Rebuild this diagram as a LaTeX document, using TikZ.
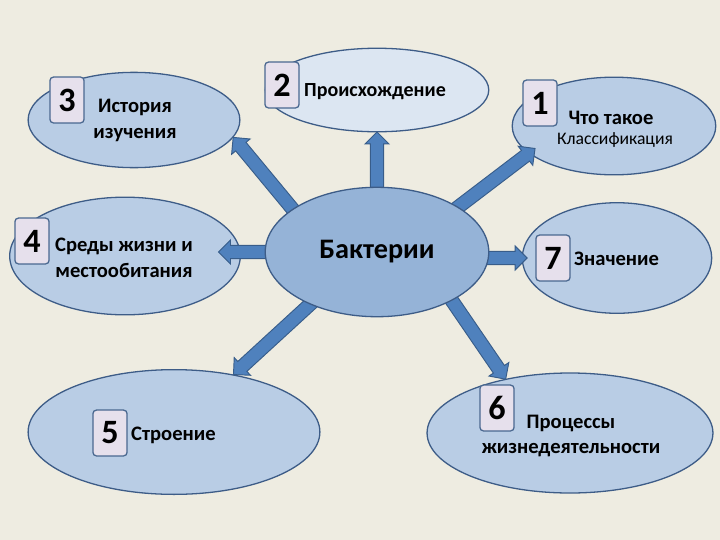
\documentclass[tikz,border=0pt]{standalone}
\usepackage{fontspec}
\setmainfont{Carlito}
\usepackage{tikz}
\usetikzlibrary{shapes.geometric,shapes.arrows,calc,positioning}
\definecolor{bgcol}{HTML}{EEECE1}
\definecolor{bubfill}{HTML}{B9CDE5}
\definecolor{palefill}{HTML}{DCE6F2}
\definecolor{corefill}{HTML}{95B3D7}
\definecolor{bubline}{HTML}{3D5C87}
\definecolor{arrfill}{HTML}{4F81BD}
\definecolor{arrline}{HTML}{385D8A}
\definecolor{boxfill}{HTML}{E6E0EC}
\definecolor{boxline}{HTML}{4A6890}
\pgfdeclarelayer{bg}
\pgfdeclarelayer{back}
\pgfdeclarelayer{mid}
\pgfsetlayers{bg,back,mid,main}
\newcommand{\blockarrow}[2]{
\path let \p1=($(#2)-(#1)$), \n1={veclen(\x1,\y1)} in
(#1) -- node[pos=0, sloped, allow upside down, anchor=tail, barrow, minimum height=\n1]{} (#2);
}

\begin{document}
\begin{tikzpicture}[x=0.85pt, y=-0.85pt,
                          bubble/.style={ellipse, draw=bubline, fill=bubfill, line width=1.1pt, inner sep=0pt},
                          pale/.style={bubble, fill=palefill},
                          core/.style={bubble, fill=corefill, font=\fontsize{24}{28}\selectfont\bfseries},
                          numbox/.style={draw=boxline, fill=boxfill, line width=1.1pt, rounded corners=3pt,
                                         minimum width=29pt, minimum height=39pt, inner sep=0pt,
                                         font=\fontsize{29}{30}\selectfont\bfseries},
                          lbl/.style={align=center, inner sep=0pt, font=\fontsize{17.5}{22}\selectfont\bfseries},
                          barrow/.style={single arrow, draw=arrline, fill=arrfill, line width=0.8pt,
                                         inner xsep=0pt, inner ysep=5.3pt, single arrow head extend=4.5pt},
                         ]

\begin{pgfonlayer}{bg}
\fill[bgcol] (0,0) rectangle (720,540);
\end{pgfonlayer}

\begin{pgfonlayer}{back}
\node[bubble, minimum width=180pt, minimum height=81pt] (hist) at (134,120) {};
\node[pale, minimum width=190pt, minimum height=71pt] (orig) at (377,90) {};
\node[bubble, minimum width=173pt, minimum height=83pt] (what) at (614,126) {};
\node[bubble, minimum width=196pt, minimum height=100pt] (habit) at (125,256) {};
\node[bubble, minimum width=161pt, minimum height=94pt] (value) at (617,258) {};
\node[bubble, minimum width=248pt, minimum height=106pt] (struct) at (174,432) {};
\node[bubble, minimum width=243pt, minimum height=102pt] (life) at (570,433) {};
\end{pgfonlayer}

\node[core, minimum width=190pt, minimum height=110pt] (bact) at (377,252) {Бактерии};

% arrows from the centre
\begin{pgfonlayer}{mid}
\coordinate (s3) at ($(bact.153)!-12pt!(hist.-10)$);
\blockarrow{s3}{hist.-10}
\coordinate (s2) at ($(bact.north)+(0,8)$);
\blockarrow{s2}{orig.south}
\coordinate (e1) at ($(what.196)!0.1!(what.center)$);
\coordinate (s1) at ($(bact.29)!-12pt!(e1)$);
\blockarrow{s1}{e1}
\coordinate (s4) at ($(bact.west)+(8,0)$);
\coordinate (e4) at ($(bact.west -| habit.east)+(-22,0)$);
\blockarrow{s4}{e4}
\coordinate (s7) at ($(bact.east |- value.west)+(-8,0)$);
\coordinate (e7) at ($(value.west)+(5,0)$);
\blockarrow{s7}{e7}
\coordinate (s5) at ($(bact.218)!-12pt!(struct.44)$);
\blockarrow{s5}{struct.44}
\coordinate (s6) at ($(bact.-33)!-12pt!(life.140)$);
\blockarrow{s6}{life.140}
\end{pgfonlayer}

\node[numbox] (b3) at (67,100) {3};
\node[numbox] (b2) at (282,85) {2};
\node[numbox] (b1) at (540,103) {1};
\node[numbox] (b4) at (32,241) {4};
\node[numbox] (b7) at (553,258) {7};
\node[numbox] (b5) at (110,433) {5};
\node[numbox] (b6) at (497,408) {6};

\node[lbl] (t3) at (135,120) {История\\изучения};
\node[lbl, anchor=west, font=\fontsize{17}{22}\selectfont\bfseries] (t2) at (304,92) {Происхождение};
\node[lbl] (t1) at (611,118) {Что такое};
\node[lbl, font=\fontsize{15}{18}\selectfont] (t1b) at (615,140) {Классификация};
\node[lbl] (t4) at (124,258) {Среды жизни и\\местообитания};
\node[lbl, anchor=west] (t7) at (574,259) {Значение};
\node[lbl, anchor=west] (t5) at (131,435) {Строение};
\node[lbl] (t6) at (571,436) {Процессы\\жизнедеятельности};

\end{tikzpicture}
\end{document}
